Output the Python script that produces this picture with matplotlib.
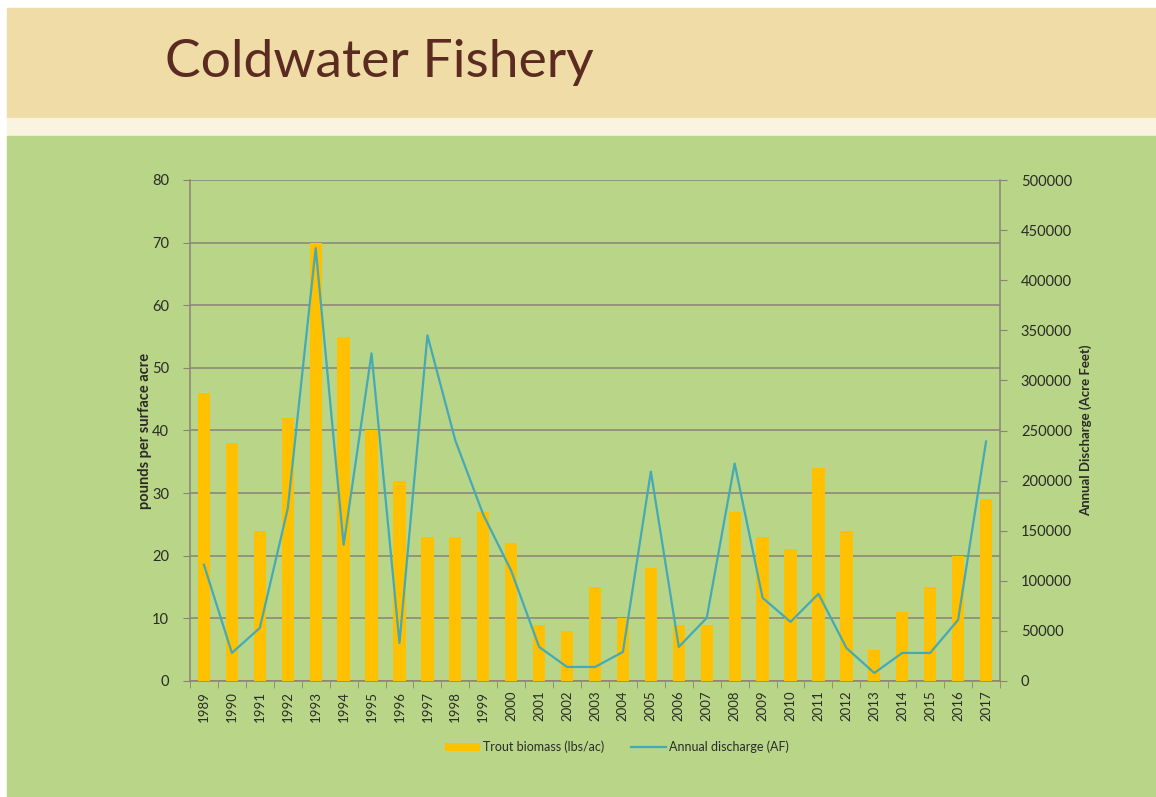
import numpy as np
import matplotlib
matplotlib.use("Agg")
import matplotlib.pyplot as plt
from matplotlib.patches import Rectangle

# ---------------------------------------------------------------- data
years = [str(y) for y in range(1989, 2018)]
trout_biomass = [46, 38, 24, 42, 70, 55, 40, 32, 23, 23, 27, 22, 9, 8, 15,
                 10, 18, 9, 9, 27, 23, 21, 34, 24, 5, 11, 15, 20, 29]
annual_discharge = [116000, 28000, 53000, 172000, 432000, 136000, 327000,
                    38000, 345000, 240000, 166000, 110000, 34000, 14000,
                    14000, 29000, 209000, 34000, 63000, 217000, 83000,
                    59000, 87000, 33000, 8000, 28000, 28000, 61000, 239000]

BAR_COL = "#ffc000"
LINE_COL = "#45aab6"
GRID_COL = "#8c8279"
TEXT_COL = "#2b2b26"

W, H = 1156, 797
fig = plt.figure(figsize=(W / 100, H / 100), dpi=100)
fig.patch.set_facecolor("white")

# slide background bands (pixel coords -> figure fractions)
def band(y0, y1, color, x0=7, x1=W):
    fig.patches.append(Rectangle((x0 / W, 1 - y1 / H), (x1 - x0) / W, (y1 - y0) / H,
                                 transform=fig.transFigure, color=color, zorder=-10))

band(8, 118, "#efdca6")
band(118, 136, "#f9f3df")
band(136, H, "#b8d588")

fig.text(165 / W, 1 - 62 / H, "Coldwater Fishery", color="#5b2b22",
         fontsize=38.5, family="Lato", va="center", ha="left")

# ---------------------------------------------------------------- axes
ax = fig.add_axes([190 / W, 1 - 681 / H, 810 / W, 501 / H])
ax.set_facecolor("none")
x = np.arange(len(years))
bars = ax.bar(x, trout_biomass, width=0.44, color=BAR_COL, zorder=3,
              label="Trout biomass (lbs/ac)")
ax.set_xlim(-0.5, len(years) - 0.5)
ax.set_ylim(0, 80)
ax.set_yticks(range(0, 81, 10))
ax.yaxis.grid(True, color=GRID_COL, linewidth=1.1, zorder=1)
ax.set_axisbelow(True)
ax.set_xticks(x)
ax.set_xticklabels(years, rotation=90, fontsize=9.5, color=TEXT_COL, family="Lato")
ax.set_xticks(np.arange(-0.5, len(years), 1), minor=True)
ax.tick_params(axis="x", which="major", length=0, pad=7)
ax.tick_params(axis="x", which="minor", length=5, color=GRID_COL, direction="out")
ax.tick_params(axis="y", length=5, color=GRID_COL, labelsize=10.5, labelcolor=TEXT_COL, pad=10)
for lab in ax.get_yticklabels():
    lab.set_family("Lato")
for side in ["top", "right"]:
    ax.spines[side].set_visible(False)
for side in ["left", "bottom"]:
    ax.spines[side].set_color(GRID_COL)
    ax.spines[side].set_linewidth(1.1)
ax.set_ylabel("pounds per surface acre", fontsize=10.5, fontweight="bold",
              color=TEXT_COL, family="Lato", labelpad=0)

ax2 = ax.twinx()
ax2.set_facecolor("none")
line, = ax2.plot(x, annual_discharge, color=LINE_COL, linewidth=1.6, zorder=4,
                 label="Annual discharge (AF)")
ax2.set_ylim(0, 500000)
ax2.set_yticks(range(0, 500001, 50000))
ax2.tick_params(axis="y", length=5, color=GRID_COL, labelsize=10.5, labelcolor=TEXT_COL, pad=10)
for lab in ax2.get_yticklabels():
    lab.set_family("Lato")
for side in ["top", "left", "bottom"]:
    ax2.spines[side].set_visible(False)
ax2.spines["right"].set_color(GRID_COL)
ax2.spines["right"].set_linewidth(1.1)
ax2.set_ylabel("Annual Discharge (Acre Feet)", fontsize=9.5, fontweight="bold",
               color=TEXT_COL, family="Lato", labelpad=5)

leg = fig.legend([bars, line], ["Trout biomass (lbs/ac)", "Annual discharge (AF)"],
                 loc="center", bbox_to_anchor=(617 / W, 1 - 747 / H), ncol=2,
                 frameon=False, handlelength=2.8, columnspacing=2.2,
                 handletextpad=0.2, prop={"family": "Lato", "size": 9})
for t in leg.get_texts():
    t.set_color(TEXT_COL)

fig.savefig("out.png", dpi=100, facecolor=fig.get_facecolor())
